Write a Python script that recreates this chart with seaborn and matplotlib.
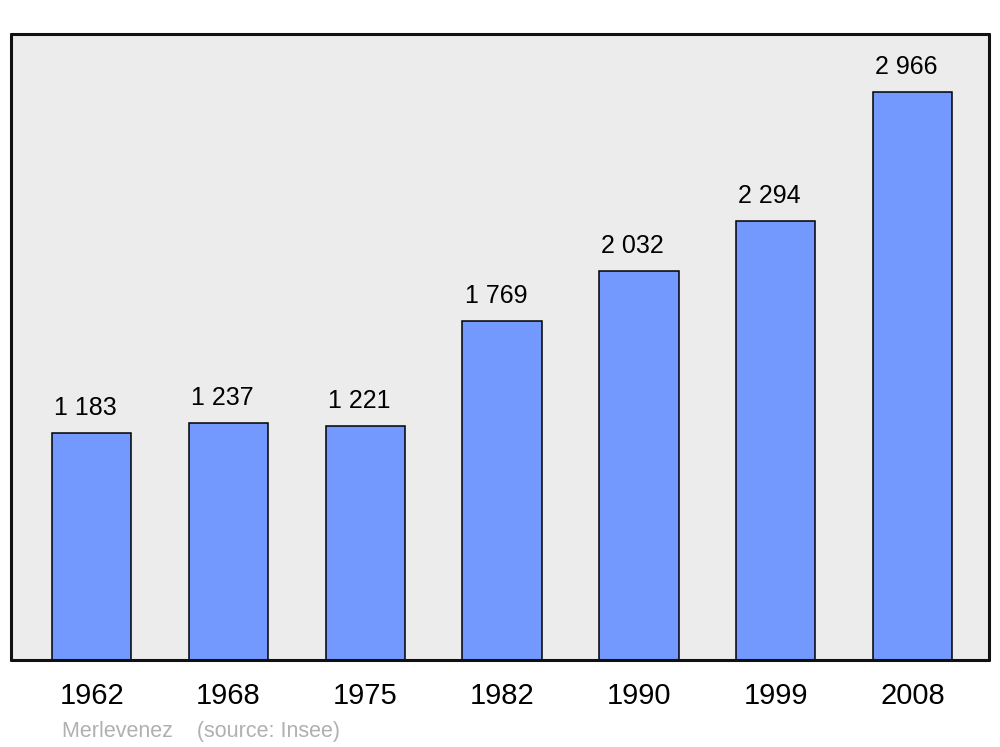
import matplotlib
matplotlib.use("Agg")
import matplotlib.pyplot as plt
import seaborn as sns
import pandas as pd

years = ["1962", "1968", "1975", "1982", "1990", "1999", "2008"]
population = [1183, 1237, 1221, 1769, 2032, 2294, 2966]
value_labels = ["1 183", "1 237", "1 221", "1 769", "2 032", "2 294", "2 966"]
source_text = "Merlevenez    (source: Insee)"

sns.set_theme(style="white")
plt.rcParams['font.family'] = ['Liberation Sans', 'DejaVu Sans']

df = pd.DataFrame({"year": years, "pop": population})

fig = plt.figure(figsize=(10, 7.47), dpi=100)
ax = fig.add_axes([0.011, 1 - 660 / 747, 0.978, (660 - 34) / 747])
ax.set_facecolor("#ececec")

sns.barplot(data=df, x="year", y="pop", ax=ax, color="#7399ff", saturation=1,
            width=0.58, edgecolor="black", linewidth=1.1)

ax.set_xlim(-0.59, 6.56)
ax.set_ylim(0, 3269)
ax.set_yticks([])
ax.set_xlabel("")
ax.set_ylabel("")
ax.tick_params(axis="x", length=0, pad=16, labelsize=21, colors="black")
for s in ax.spines.values():
    s.set_visible(True)
    s.set_linewidth(2.2)
    s.set_color("#111111")
    s.set_capstyle("round")

for i, (v, lab) in enumerate(zip(population, value_labels)):
    ax.annotate(lab, xy=(i, v), xytext=(-4.5, 13), textcoords="offset points",
                ha="center", va="baseline", fontsize=18, color="black")

fig.text(0.062, 1 - 737 / 747, source_text, fontsize=15.5, color="#b0b0b0",
         ha="left", va="baseline")

fig.savefig("out.png", dpi=100, facecolor="white")
